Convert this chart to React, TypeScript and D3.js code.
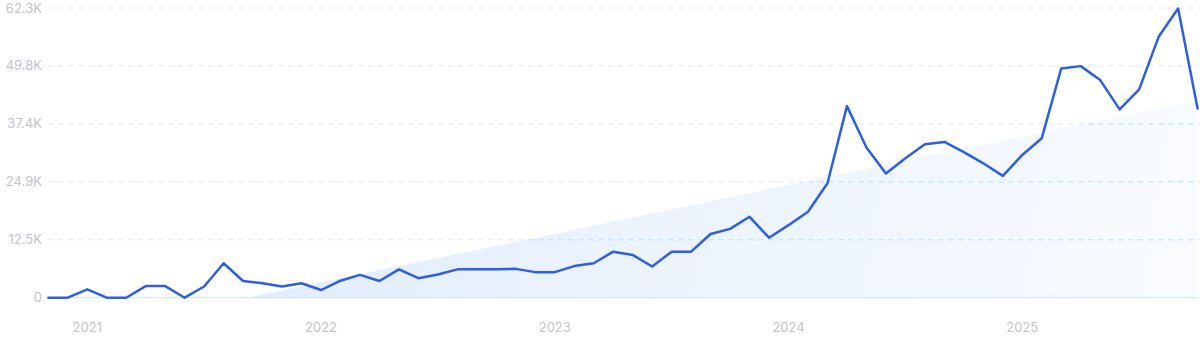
import React from "react";
import * as d3 from "d3";

const startMonth = "2020-11";
const values: number[] = [
  0, 0, 1800, 0, 0, 2500, 2500, 0, 2400, 7400,
  3600, 3100, 2400, 3100, 1650, 3650, 4900, 3600, 6100, 4200,
  5000, 6100, 6100, 6100, 6200, 5500, 5500, 6800, 7400, 9900,
  9200, 6700, 9900, 9900, 13700, 14800, 17400, 12900, 15600, 18500,
  24600, 41200, 32300, 26700, 30000, 33000, 33500, 31300, 28900, 26200,
  30700, 34300, 49300, 49800, 46800, 40500, 44800, 56100, 62200, 40700,
];
const yTickValues = [0, 12460, 24920, 37380, 49840, 62300];
const yTickLabels = ["0", "12.5K", "24.9K", "37.4K", "49.8K", "62.3K"];
const yearLabels = ["2021", "2022", "2023", "2024", "2025"];

const W = 1200;
const H = 343;
const M = { left: 48.3, right: 1197.6, top: 8, bottom: 297.7 };

export default function App() {
  const start = d3.timeParse("%Y-%m")(startMonth)!;
  const dates = values.map((_, i) => d3.timeMonth.offset(start, i));
  const x = d3.scaleLinear().domain([0, values.length - 1]).range([M.left, M.right]);
  const y = d3.scaleLinear().domain([0, 62300]).range([M.bottom, M.top]);

  // linear regression trend
  const n = values.length;
  const mx = d3.mean(values.map((_, i) => i))!;
  const my = d3.mean(values)!;
  let sxy = 0, sxx = 0;
  values.forEach((v, i) => { sxy += (i - mx) * (v - my); sxx += (i - mx) * (i - mx); });
  const slope = sxy / sxx;
  const intercept = my - slope * mx;
  const t0 = Math.max(0, -intercept / slope);
  const trendPts: [number, number][] = [[t0, Math.max(0, intercept + slope * t0)], [n - 1, intercept + slope * (n - 1)]];
  const area = d3.area<[number, number]>().x(d => x(d[0])).y0(y(0)).y1(d => y(d[1]));
  const areaD = area(trendPts)!;
  const line = d3.line<number>().x((_, i) => x(i)).y(d => y(d)).curve(d3.curveLinear);

  const yearTicks = dates
    .map((d, i) => ({ d, i }))
    .filter(o => o.d.getMonth() === 0)
    .map((o, k) => ({ i: o.i, label: yearLabels[k] ?? String(o.d.getFullYear()) }));

  const font = "Inter, 'Noto Sans', sans-serif";
  return (
    <svg width={W} height={H} style={{ position: "absolute", left: 0, top: 0 }} fontFamily={font}>
      <defs>
        <linearGradient id="trendFill" gradientUnits="userSpaceOnUse" x1={x(t0)} y1={y(30000)} x2={M.right} y2={M.bottom}>
          <stop offset="0%" stopColor="#e2edfc" />
          <stop offset="50%" stopColor="#edf4fd" />
          <stop offset="100%" stopColor="#f9fbff" />
        </linearGradient>
        <clipPath id="areaClip">
          <path d={areaD} />
        </clipPath>
      </defs>
      <path d={areaD} fill="url(#trendFill)" />
      {yTickValues.map((v, k) => (
        <g key={k}>
          {k > 0 && (
            <>
              <line x1={M.left} x2={W} y1={y(v)} y2={y(v)} stroke="#dfe5f3" strokeWidth={1} strokeDasharray="5 5" />
              <line x1={M.left} x2={W} y1={y(v)} y2={y(v)} stroke="#bde6fd" strokeWidth={1} strokeDasharray="5 5" clipPath="url(#areaClip)" />
            </>
          )}
          <text x={42} y={y(v)} dy="0.35em" textAnchor="end" fontSize={13} fill="#c3c4cb">
            {yTickLabels[k]}
          </text>
        </g>
      ))}
      <line x1={M.left} x2={M.right} y1={y(0)} y2={y(0)} stroke="#d4e7fb" strokeWidth={1.2} />
      {yearTicks.map(t => (
        <text key={t.i} x={x(t.i)} y={327} dy="0.35em" textAnchor="middle" fontSize={13} fill="#c3c4cb">
          {t.label}
        </text>
      ))}
      <path d={line(values)!} fill="none" stroke="#2d5fe0" strokeWidth={2.5} strokeLinejoin="round" strokeLinecap="round" />
    </svg>
  );
}
